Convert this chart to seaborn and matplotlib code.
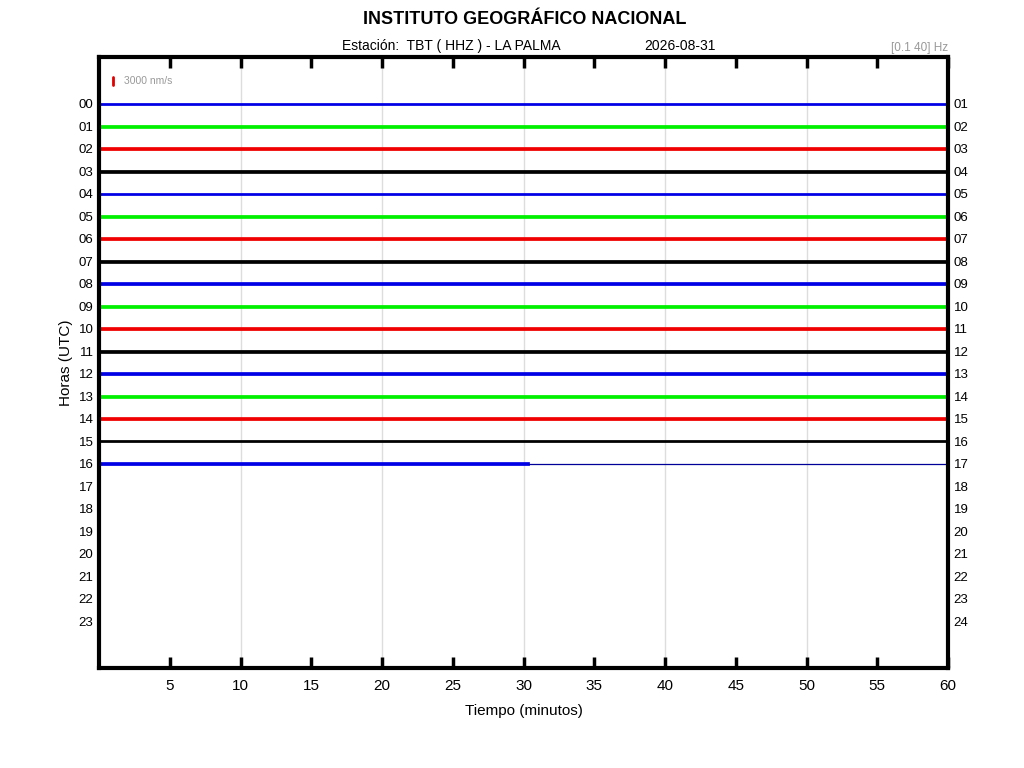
import matplotlib
matplotlib.use("Agg")
import matplotlib.pyplot as plt
import seaborn as sns
import pandas as pd

# helicorder rows, one per hour (UTC)
hours = list(range(24))
left_labels = [f"{h:02d}" for h in range(24)]
right_labels = [f"{h:02d}" for h in range(1, 25)]
# minutes recorded in each hour (empty rows = 0)
recorded_min = [60] * 16 + [30.4] + [0] * 7
# approximate noise half-amplitude per row, nm/s
noise_amp = [520, 480, 540, 470, 500, 470, 520, 460, 500, 470, 520, 470,
             500, 480, 560, 460, 540] + [0] * 7
trace_colors = ["#0000e6", "#00f000", "#f00000", "#000000"]

scale_nms = 3000
nms_per_row = 8400  # one row spacing in nm/s
station = "Estación:  TBT ( HHZ ) - LA PALMA"
date = "2026-08-31"
band = "[0.1 40] Hz"

sns.set_theme(style="white")
plt.rcParams["font.family"] = ["Liberation Sans", "DejaVu Sans"]
plt.rcParams.update({"text.color": "black", "axes.labelcolor": "black",
                     "xtick.color": "black", "ytick.color": "black"})

fig = plt.figure(figsize=(10.24, 7.68), dpi=100)
ax = fig.add_axes([0.0967, 0.1302, 0.8291, 0.7956])

rows = pd.DataFrame({"hour": hours, "end": recorded_min, "amp": noise_amp})
for _, r in rows.iterrows():
    if r["end"] <= 0:
        continue
    h = r["hour"]
    c = trace_colors[int(h) % 4]
    a = r["amp"] / nms_per_row
    seg = pd.DataFrame({"min": [0, r["end"]], "y": [h, h]})
    ax.fill_between(seg["min"], seg["y"] - a, seg["y"] + a, color=c, lw=0.5, ec=c)
    sns.lineplot(data=seg, x="min", y="y", color=c, lw=1.0, ax=ax)
    if r["end"] < 60:
        tail = pd.DataFrame({"min": [r["end"], 60], "y": [h, h]})
        sns.lineplot(data=tail, x="min", y="y", color="#000099", lw=0.9, ax=ax)

# scale bar
sb = scale_nms / nms_per_row
ax.plot([1.0, 1.0], [-1.02 - sb / 2, -1.02 + sb / 2], color="#e00000", lw=2)
ax.text(1.8, -1.02, f"{scale_nms} nm/s", color="#999999", fontsize=7.5, va="center")

for m in range(10, 60, 10):
    ax.axvline(m, color="#dddddd", lw=1, zorder=0)

ax.set_xlim(0, 60)
ax.set_ylim(25.09, -2.09)
ax.set_xticks(range(5, 61, 5))
ax.set_xticklabels([str(m) for m in range(5, 61, 5)], fontsize=11)
ax.set_yticks(hours)
ax.set_yticklabels(left_labels, fontsize=9.5)
ax.tick_params(axis="x", direction="in", length=8, width=2.5, top=True, bottom=True, pad=8)
ax.tick_params(axis="y", length=0, pad=4)
ax.set_xlabel("Tiempo (minutos)", fontsize=11, labelpad=8)
ax.set_ylabel("Horas (UTC)", fontsize=11, labelpad=4)
for s in ax.spines.values():
    s.set_linewidth(3)
    s.set_color("black")

ax2 = ax.twinx()
ax2.set_ylim(ax.get_ylim())
ax2.set_yticks(hours)
ax2.set_yticklabels(right_labels, fontsize=9.5)
ax2.tick_params(axis="y", length=0, pad=4)
for s in ax2.spines.values():
    s.set_visible(False)
ax2.grid(False)

fig.text(0.512, 0.974, "INSTITUTO GEOGRÁFICO NACIONAL", ha="center", va="center",
         fontsize=13, fontweight="bold")
fig.text(0.441, 0.940, station, ha="center", va="center", fontsize=10)
fig.text(0.664, 0.940, date, ha="center", va="center", fontsize=10)
fig.text(0.926, 0.937, band, ha="right", va="center", fontsize=8.5, color="#999999")

fig.savefig("out.png", dpi=100)
